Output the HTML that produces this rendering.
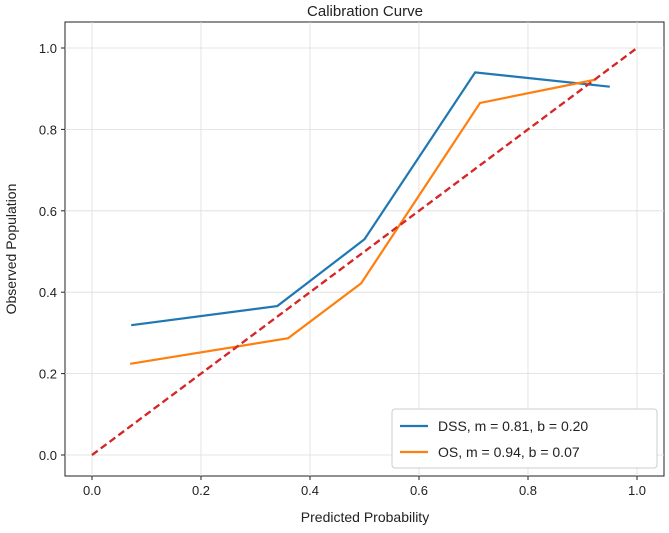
<!DOCTYPE html>
<html><head><meta charset="utf-8"><style>
body{margin:0;background:#fff;font-family:"Liberation Sans",sans-serif}
svg text{font-family:"Liberation Sans",sans-serif;fill:#222}
</style></head><body>
<svg id="c" width="669" height="528"></svg>
<script>
const xTicks=[0.0,0.2,0.4,0.6,0.8,1.0];
const yTicks=[0.0,0.2,0.4,0.6,0.8,1.0];
const dssX=[0.072,0.34,0.5,0.703,0.95];
const dssY=[0.319,0.366,0.53,0.94,0.905];
const osX=[0.07,0.36,0.494,0.712,0.923];
const osY=[0.224,0.287,0.422,0.865,0.922];
const svg=document.getElementById('c');
const NS='http://www.w3.org/2000/svg';
const X=v=>92+v*545, Y=v=>455-v*407;
const L=65,R=664,T=22,B=476;
function mk(t,a,p){const e=document.createElementNS(NS,t);for(const k in a)e.setAttribute(k,a[k]);(p||svg).appendChild(e);return e;}
const frame=mk('rect',{x:L,y:T,width:R-L,height:B-T,fill:'none',stroke:'#222','stroke-width':1});


xTicks.forEach(v=>{
 const g=mk('line',{x1:X(v),x2:X(v),y1:T,y2:B,stroke:'#ddd','stroke-width':0.8});
 
 
 mk('line',{x1:X(v),x2:X(v),y1:B,y2:B+4,stroke:'#222'});
 const t=mk('text',{x:X(v),y:B+19,'text-anchor':'middle','font-size':13});t.textContent=v.toFixed(1);
 
 
});
yTicks.forEach(v=>{
 const g=mk('line',{x1:L,x2:R,y1:Y(v),y2:Y(v),stroke:'#ddd','stroke-width':0.8});
 
 
 mk('line',{x1:L-4,x2:L,y1:Y(v),y2:Y(v),stroke:'#222'});
 const t=mk('text',{x:L-8,y:Y(v)+5,'text-anchor':'end','font-size':13});t.textContent=v.toFixed(1);
 
 
});
const diag=mk('line',{x1:X(0),y1:Y(0),x2:X(1),y2:Y(1),stroke:'#d62728','stroke-width':2.2,'stroke-dasharray':'7,4'});


function line(xs,ys,c,n){const p=mk('polyline',{points:xs.map((x,i)=>X(x)+','+Y(ys[i])).join(' '),fill:'none',stroke:c,'stroke-width':2.2});
 
 }
line(dssX,dssY,'#1f77b4','dss-line');
line(osX,osY,'#ff7f0e','os-line');
mk('line',{x1:X(0),y1:Y(0),x2:X(1),y2:Y(1),stroke:'#d62728','stroke-width':2.2,'stroke-dasharray':'7,4'});
const title=mk('text',{x:365,y:16,'text-anchor':'middle','font-size':15});title.textContent='Calibration Curve';


const xl=mk('text',{x:365,y:522,'text-anchor':'middle','font-size':14});xl.textContent='Predicted Probability';


const yl=mk('text',{x:16,y:249,'text-anchor':'middle','font-size':14,transform:'rotate(-90 16 249)'});yl.textContent='Observed Population';


const lg=mk('rect',{x:392,y:409,width:265,height:59,rx:3,fill:'#fff',stroke:'#ccc'});


[['#1f77b4','DSS, m = 0.81, b = 0.20',426],['#ff7f0e','OS, m = 0.94, b = 0.07',452]].forEach(([c,s,y])=>{
 mk('line',{x1:400,x2:428,y1:y,y2:y,stroke:c,'stroke-width':2.2});
 const t=mk('text',{x:438,y:y+5,'font-size':14});t.textContent=s;
 
 
});
</script>
</body></html>
